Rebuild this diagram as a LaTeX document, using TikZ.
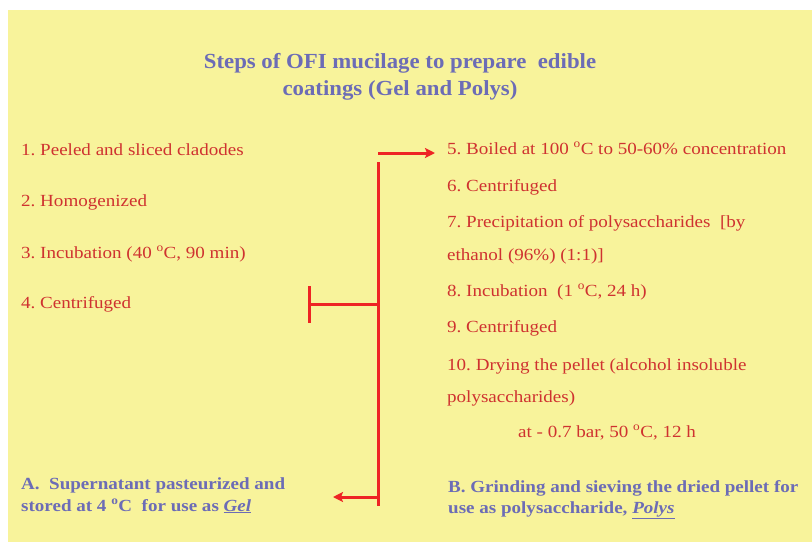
\documentclass[tikz,border=0pt]{standalone}
\usepackage{fontspec}
\setmainfont{Liberation Serif}
\newfontfamily\bodyfont{Liberation Serif}[FakeStretch=1.12]
\newfontfamily\boldbodyfont{Liberation Serif}[FakeStretch=1.12]
\newfontfamily\titlefont{Liberation Serif}[FakeStretch=1.06]
\usetikzlibrary{arrows.meta}
\definecolor{bgyellow}{HTML}{F8F39B}
\definecolor{txtred}{HTML}{CF3230}
\definecolor{linered}{HTML}{EE2424}
\definecolor{txtblue}{HTML}{6C6CB6}
\newcommand{\dg}{\textsuperscript{o}}
\frenchspacing
\tikzset{
  steptext/.style={anchor=base west,inner sep=0pt,text=txtred,font=\bodyfont\fontsize{17}{19}\selectfont\frenchspacing},
  restext/.style={anchor=base west,inner sep=0pt,text=txtblue,font=\boldbodyfont\fontsize{17}{19}\selectfont\bfseries\frenchspacing},
  titletext/.style={inner sep=0pt,text=txtblue,font=\titlefont\fontsize{21.5}{26}\selectfont\bfseries\frenchspacing,align=center},
  flow/.style={draw=linered,line width=3pt},
  flowarrow/.style={flow,-{Stealth[length=10pt,width=10pt,inset=2pt]}}
}
\begin{document}
\begin{tikzpicture}[x=1pt,y=-1pt]
\useasboundingbox (0,0) rectangle (812,542);
\fill[bgyellow] (8,10) rectangle (812,542);
\node[titletext,anchor=base] (t1) at (400,68) {Steps of OFI mucilage to prepare\ \ edible};
\node[titletext,anchor=base] (t2) at (400,95) {coatings (Gel and Polys)};
\node[steptext] (s1) at (21,155) {1. Peeled and sliced cladodes};
\node[steptext] (s2) at (21,206) {2. Homogenized};
\node[steptext] (s3) at (21,258) {3. Incubation (40 \dg C, 90 min)};
\node[steptext] (s4) at (21,308) {4. Centrifuged};
\node[steptext] (s5) at (447,154) {5. Boiled at 100 \dg C to 50-60\% concentration};
\node[steptext] (s6) at (447,191) {6. Centrifuged};
\node[steptext] (s7) at (447,227) {7. Precipitation of polysaccharides\ \ [by};
\node[steptext] (s7b) at (447,260) {ethanol (96\%) (1:1)]};
\node[steptext] (s8) at (447,296) {8. Incubation\ \ (1 \dg C, 24 h)};
\node[steptext] (s9) at (447,332) {9. Centrifuged};
\node[steptext] (s10) at (447,370) {10. Drying the pellet (alcohol insoluble};
\node[steptext] (s10b) at (447,402) {polysaccharides)};
\node[steptext] (s10c) at (518,437) {at - 0.7 bar, 50 \dg C, 12 h};
\node[restext] (a1) at (21,489) {A.\ \ Supernatant pasteurized and};
\node[restext] (a2) at (21,511) {stored at 4 \dg C\ \ for use as \underline{\textit{Gel}}};
\node[restext] (b1) at (448,492) {B. Grinding and sieving the dried pellet for};
\node[restext] (b2) at (448,513) {use as polysaccharide, \underline{\textit{Polys}}};
\coordinate (vtop) at (378,162);
\coordinate (vbot) at (378,506);
\coordinate (hstart) at (378,153);
\coordinate (hend) at (435,153);
\coordinate (tmid) at (378,304);
\coordinate (tleft) at (309,304);
\coordinate (ttop) at (309,286);
\coordinate (tbot) at (309,323);
\coordinate (ajoin) at (378,497);
\coordinate (aend) at (333,497);
\draw[flow] (vtop) -- (vbot);
\draw[flowarrow] (hstart) -- (hend);
\draw[flow] (tmid) -- (tleft);
\draw[flow] (ttop) -- (tbot);
\draw[flowarrow] (ajoin) -- (aend);
\end{tikzpicture}
\end{document}
